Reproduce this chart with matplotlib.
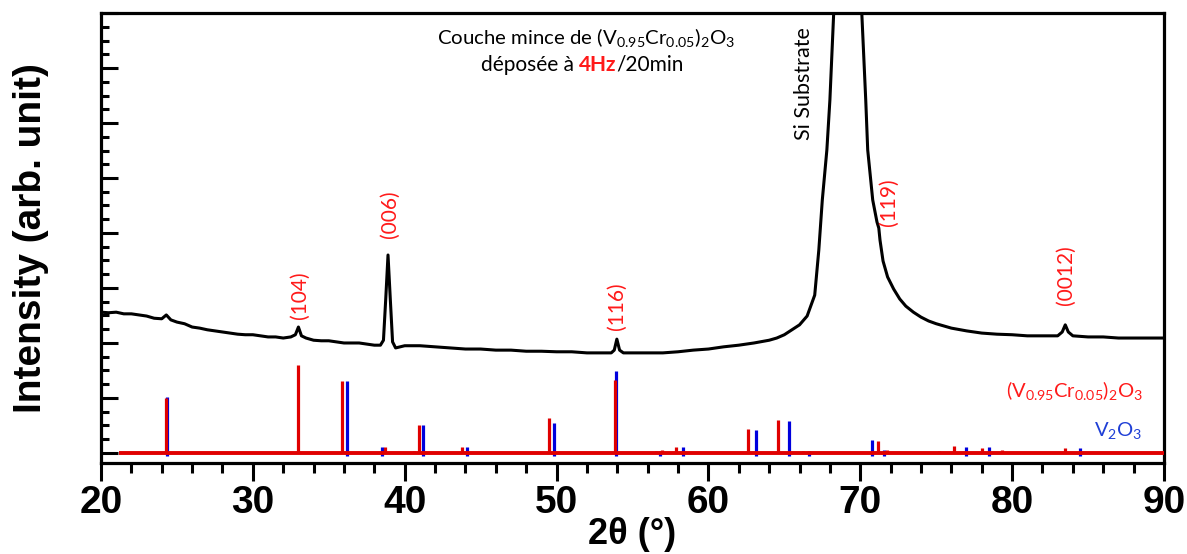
from matplotlib import pyplot as plt
from matplotlib.ticker import MultipleLocator, NullFormatter
import numpy as np

plt.rcParams['mathtext.default'] = 'regular'

#%% DATA
# measured pattern, 2theta [deg] and intensity [arb.]
two_theta = [20.0, 20.5, 21.0, 21.5, 22.0, 22.5, 23.0, 23.5, 24.0, 24.3, 24.6,
             25.0, 25.5, 26.0, 26.5, 27.0, 27.5, 28.0, 28.5, 29.0, 29.5, 30.0,
             30.5, 31.0, 31.5, 32.0, 32.5, 32.8, 33.0, 33.2, 33.5, 34.0, 34.5,
             35.0, 35.5, 36.0, 36.5, 37.0, 37.5, 38.0, 38.4, 38.6, 38.75, 38.9,
             39.05, 39.2, 39.4, 39.7, 40.0, 41.0, 42.0, 43.0, 44.0, 45.0, 46.0,
             47.0, 48.0, 49.0, 50.0, 51.0, 52.0, 53.0, 53.6, 53.8, 53.97, 54.15,
             54.4, 55.0, 56.0, 57.0, 58.0, 59.0, 60.0, 61.0, 62.0, 63.0, 64.0,
             64.5, 65.0, 65.5, 66.0, 66.5, 67.0, 67.27, 67.5, 67.8, 68.0, 68.25,
             68.7, 69.2, 69.7, 70.1, 70.36, 70.49, 70.82, 71.1, 71.22, 71.3,
             71.5, 71.8, 72.2, 72.6, 73.0, 73.5, 74.0, 74.5, 75.0, 76.0, 77.0,
             78.0, 79.0, 80.0, 81.0, 82.0, 83.0, 83.3, 83.5, 83.7, 84.0, 85.0,
             86.0, 87.0, 88.0, 89.0, 90.0]
intensity = [2.56, 2.55, 2.56, 2.53, 2.53, 2.51, 2.49, 2.45, 2.44, 2.51, 2.42,
             2.38, 2.35, 2.29, 2.27, 2.24, 2.22, 2.20, 2.18, 2.16, 2.15, 2.15,
             2.13, 2.11, 2.11, 2.09, 2.11, 2.15, 2.29, 2.13, 2.09, 2.05, 2.04,
             2.04, 2.02, 2.00, 2.00, 2.00, 1.98, 1.96, 1.96, 2.05, 2.80, 3.60,
             2.80, 2.02, 1.91, 1.93, 1.95, 1.95, 1.93, 1.91, 1.89, 1.89, 1.87,
             1.87, 1.85, 1.85, 1.84, 1.84, 1.82, 1.82, 1.82, 1.87, 2.07, 1.87,
             1.82, 1.82, 1.82, 1.82, 1.84, 1.87, 1.89, 1.93, 1.96, 2.00, 2.05,
             2.09, 2.15, 2.24, 2.33, 2.49, 2.87, 3.69, 4.60, 5.51, 6.42, 8.00,
             9.8, 10.6, 9.8, 8.00, 6.42, 5.51, 4.60, 4.20, 4.09, 3.87,
             3.49, 3.20, 2.98, 2.80, 2.67, 2.56, 2.47, 2.40, 2.35, 2.27, 2.22,
             2.18, 2.16, 2.15, 2.13, 2.13, 2.13, 2.20, 2.33, 2.20, 2.13, 2.11,
             2.11, 2.09, 2.09, 2.09, 2.09]

# reference lines (V0.95Cr0.05)2O3
ref_cr_pos = [24.25, 32.95, 35.84, 38.72, 40.63, 40.96, 43.79, 49.51, 53.86,
              56.58, 56.95, 57.88, 62.60, 64.59, 66.23, 71.17, 71.77, 75.19,
              76.15, 78.02, 79.33, 83.46]
ref_cr_int = [1.00, 1.60, 1.31, 0.11, 0.04, 0.51, 0.11, 0.64, 1.33,
              0.04, 0.05, 0.11, 0.44, 0.60, 0.04, 0.22, 0.05, 0.03,
              0.13, 0.09, 0.05, 0.09]
# reference lines V2O3
ref_v_pos = [24.32, 36.22, 38.52, 41.22, 44.12, 49.84, 53.92, 56.80, 58.33,
             63.14, 65.31, 66.63, 70.78, 71.57, 76.94, 78.46, 84.45]
ref_v_int = [1.02, 1.31, 0.11, 0.51, 0.11, 0.55, 1.49, 0.04, 0.11,
             0.42, 0.58, 0.04, 0.24, 0.05, 0.11, 0.11, 0.09]

# peak labels
hkl_labels = ['(104)', '(006)', '(116)', '(119)', '(0012)']
hkl_x = [33.1, 39.03, 53.97, 71.88, 83.53]
hkl_y = [2.87, 4.35, 2.67, 4.56, 3.24]

RED = '#e00000'
BLUE = '#0000dd'
LBL_RED = '#ff1a1a'
TXT_FONT = 'Lato'

fig = plt.figure(figsize=(11.87, 5.54), dpi=100)
ax = fig.add_axes([0.0851, 0.1643, 0.8955, 0.8122])

ax.plot(two_theta, intensity, color='black', lw=2.2, zorder=3)

ax.vlines(ref_v_pos, -0.06, ref_v_int, color=BLUE, lw=2.3, zorder=2)
ax.vlines(ref_cr_pos, 0, ref_cr_int, color=RED, lw=2.3, zorder=2.5)
ax.hlines(0, 21.2, 90, color=RED, lw=2.8, zorder=2.6)

ax.set_xlim(20, 90)
ax.set_ylim(-0.182, 8.0)

ax.xaxis.set_major_locator(MultipleLocator(10))
ax.xaxis.set_minor_locator(MultipleLocator(2))
ax.yaxis.set_major_locator(MultipleLocator(1))
ax.yaxis.set_minor_locator(MultipleLocator(0.25))
ax.yaxis.set_major_formatter(NullFormatter())

for sp in ax.spines.values():
    sp.set_linewidth(2.3)

ax.tick_params(axis='y', which='major', direction='in', length=12, width=2.2)
ax.tick_params(axis='y', which='minor', direction='in', length=6, width=2.2)
ax.tick_params(axis='x', which='major', direction='out', length=13, width=2.2,
               pad=3, labelsize=28)
ax.tick_params(axis='x', which='minor', direction='out', length=7, width=2.2)
for lab in ax.get_xticklabels():
    lab.set_fontweight('bold')
    lab.set_family('Liberation Sans')

ax.set_xlabel('2θ (°)', fontsize=26, fontweight='bold',
              family='Liberation Sans', labelpad=-3)
ax.set_ylabel('Intensity (arb. unit)', fontsize=28, fontweight='bold',
              family='Liberation Sans', labelpad=34)

# annotations
for lab, x, y in zip(hkl_labels, hkl_x, hkl_y):
    ax.text(x, y, lab, rotation=90, ha='center', va='center', color=LBL_RED,
            fontsize=15, family=TXT_FONT)

ax.text(66.28, 6.71, 'Si Substrate', rotation=90, ha='center', va='center',
        fontsize=15.5, family=TXT_FONT)

ax.text(51.93, 7.55, 'Couche mince de (V$_{0.95}$Cr$_{0.05}$)$_2$O$_3$',
        ha='center', va='center', fontsize=14.7, family=TXT_FONT)

# second line: three pieces chained one after the other
t1 = ax.text(45.0, 6.88, 'déposée à', ha='left', va='bottom',
             fontsize=15, family=TXT_FONT)
t2 = ax.annotate('4Hz', xy=(1, 0), xycoords=t1, xytext=(3.5, 0),
                 textcoords='offset points', ha='left', va='bottom',
                 fontsize=15, family=TXT_FONT, color=LBL_RED, fontweight='bold')
t3 = ax.annotate('/20min', xy=(1, 0), xycoords=t2, ha='left', va='bottom',
                 fontsize=15, family=TXT_FONT)

ax.text(88.6, 1.02, '(V$_{0.95}$Cr$_{0.05}$)$_2$O$_3$', ha='right',
        va='baseline', color=LBL_RED, fontsize=14.5, family=TXT_FONT)
ax.text(88.6, 0.31, 'V$_2$O$_3$', ha='right', va='baseline', color='#1f3fd6',
        fontsize=14.5, family=TXT_FONT)

fig.savefig('out.png', dpi=100)
